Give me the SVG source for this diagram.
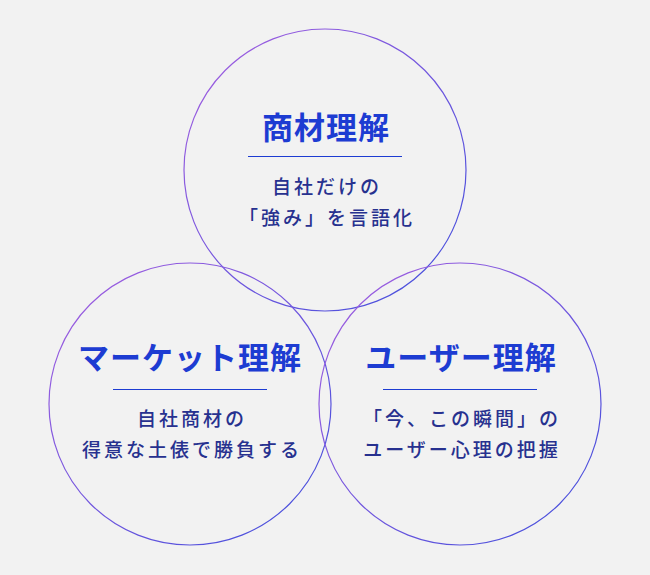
<svg xmlns="http://www.w3.org/2000/svg" width="650" height="575" viewBox="0 0 650 575">
<defs>
<linearGradient id="g" x1="0" y1="0" x2="1" y2="1">
<stop offset="0" stop-color="#a65fe0"/><stop offset="1" stop-color="#3f4fdc"/>
</linearGradient>
<style>
.c{fill:none;stroke:url(#g);stroke-width:1.2}
.t{font-family:"Noto Sans CJK JP",sans-serif;font-weight:bold;font-size:31px;letter-spacing:1px;fill:#1d3cd2;text-anchor:middle}
.s{font-family:"Noto Sans CJK JP",sans-serif;font-weight:500;font-size:19px;letter-spacing:3px;fill:#27318f;text-anchor:middle}
.l{stroke:#1d3cd2;stroke-width:1}
</style>
</defs>
<rect width="650" height="575" fill="#f2f2f2"/>
<g id="top"><circle class="c" cx="325" cy="170" r="141"/><text class="t" x="326" y="139">商材理解</text><line class="l" x1="248" y1="156.5" x2="402" y2="156.5"/><text class="s" x="327" y="194">自社だけの</text><text class="s" x="327" y="225">「強み」を言語化</text></g>
<g id="left"><circle class="c" cx="190" cy="404" r="141"/><text class="t" x="190" y="369">マーケット理解</text><line class="l" x1="113" y1="389.5" x2="267" y2="389.5"/><text class="s" x="192" y="426">自社商材の</text><text class="s" x="192" y="457">得意な土俵で勝負する</text></g>
<g id="right"><circle class="c" cx="460" cy="404" r="141"/><text class="t" x="461" y="369">ユーザー理解</text><line class="l" x1="383" y1="389.5" x2="537" y2="389.5"/><text class="s" x="462" y="426">「今、この瞬間」の</text><text class="s" x="462" y="457">ユーザー心理の把握</text></g>
<g id="connectors"/>
</svg>
